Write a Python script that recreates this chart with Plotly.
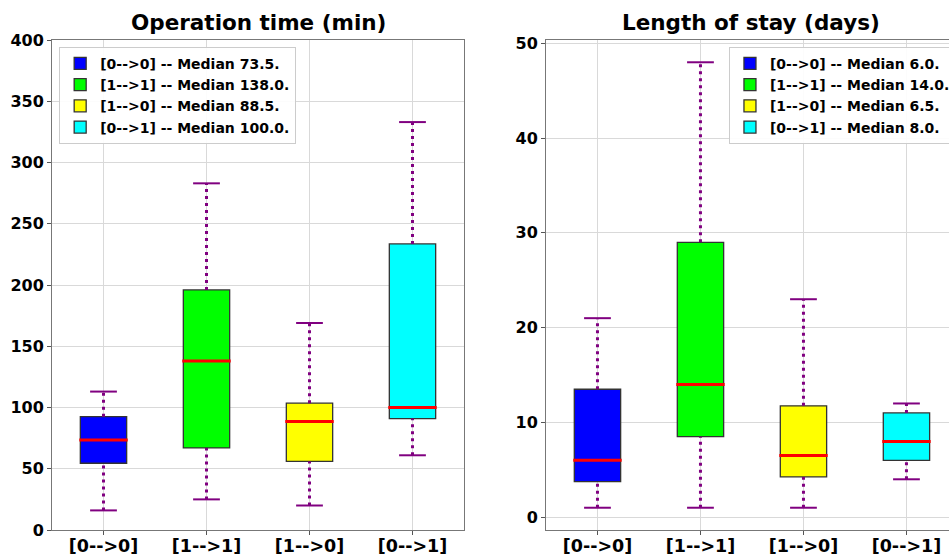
import plotly.graph_objects as go

categories = ["[0-->0]", "[1-->1]", "[1-->0]", "[0-->1]"]
colors = ["#0000ff", "#00ff00", "#ffff00", "#00ffff"]

# Operation time (min)
op_low = [16, 25, 20, 61]
op_q1 = [54.5, 67, 56, 91]
op_med = [73.5, 138.0, 88.5, 100.0]
op_q3 = [92.5, 196, 103.5, 233.5]
op_high = [113, 283, 169, 333]

# Length of stay (days)
los_low = [1, 1, 1, 4]
los_q1 = [3.75, 8.5, 4.25, 6]
los_med = [6.0, 14.0, 6.5, 8.0]
los_q3 = [13.5, 29, 11.75, 11]
los_high = [21, 48, 23, 12]

positions = list(range(1, len(categories) + 1))
BOX_W = 0.45
CAP_HALF = 0.13
PURPLE = "#800080"
FONT = "DejaVu Sans"

fig = go.Figure()


def add_panel(xa, ya, legend, low, q1, med, q3, high):
    for i, p in enumerate(positions):
        # box
        fig.add_trace(go.Bar(
            x=[p], y=[q3[i] - q1[i]], base=[q1[i]], width=BOX_W,
            marker=dict(color=colors[i], line=dict(color="#333333", width=1.3)),
            name=f"{categories[i]} -- Median {med[i]:.1f}.",
            xaxis=xa, yaxis=ya, legend=legend, hoverinfo="skip",
        ))
    for i, p in enumerate(positions):
        # whiskers (dotted)
        fig.add_trace(go.Scatter(
            x=[p, p, None, p, p], y=[low[i], q1[i], None, q3[i], high[i]],
            mode="lines", line=dict(color=PURPLE, width=3, dash="3px,4px"),
            showlegend=False, xaxis=xa, yaxis=ya, hoverinfo="skip",
        ))
        # caps
        fig.add_trace(go.Scatter(
            x=[p - CAP_HALF, p + CAP_HALF, None, p - CAP_HALF, p + CAP_HALF],
            y=[low[i], low[i], None, high[i], high[i]],
            mode="lines", line=dict(color=PURPLE, width=2),
            showlegend=False, xaxis=xa, yaxis=ya, hoverinfo="skip",
        ))
        # median
        fig.add_trace(go.Scatter(
            x=[p - BOX_W / 2 - 0.01, p + BOX_W / 2 + 0.01], y=[med[i], med[i]],
            mode="lines", line=dict(color="#ff0000", width=3),
            showlegend=False, xaxis=xa, yaxis=ya, hoverinfo="skip",
        ))


add_panel("x", "y", "legend", op_low, op_q1, op_med, op_q3, op_high)
add_panel("x2", "y2", "legend2", los_low, los_q1, los_med, los_q3, los_high)

axis_common = dict(
    showline=True, linecolor="#777777", linewidth=1, mirror=True,
    showgrid=True, gridcolor="#d9d9d9", gridwidth=1,
    ticks="outside", ticklen=4, tickcolor="#555555", zeroline=False,
)
ytickfont = dict(family=FONT, size=16, color="black", weight="bold")
xtickfont = dict(family=FONT, size=17.5, color="black", weight="bold")

legend_font = dict(family=FONT, size=14, color="black", weight="bold")

fig.update_layout(
    width=949, height=556, autosize=False,
    margin=dict(l=52, r=0, t=40, b=26, autoexpand=False),
    plot_bgcolor="white", paper_bgcolor="white",
    barmode="overlay",
    xaxis=dict(domain=[0, 0.4593], range=[0.5, 4.5], tickvals=positions,
               ticktext=categories, anchor="y", tickfont=xtickfont,
               ticklabelstandoff=-4, **axis_common),
    yaxis=dict(domain=[0, 1], range=[0, 400], dtick=50, anchor="x",
               tickfont=ytickfont, **axis_common),
    xaxis2=dict(domain=[0.5507, 1], range=[0.5, 4.413], tickvals=positions,
                ticktext=categories, anchor="y2", tickfont=xtickfont,
                ticklabelstandoff=-4, **axis_common),
    yaxis2=dict(domain=[0, 1], range=[-1.35, 50.35], dtick=10, anchor="x2",
                tickfont=ytickfont, **axis_common),
    legend=dict(x=0.008, y=0.986, xanchor="left", yanchor="top",
                bgcolor="rgba(255,255,255,0.9)", bordercolor="#cccccc", borderwidth=1,
                font=legend_font, tracegroupgap=0),
    legend2=dict(x=0.7547, y=0.986, xanchor="left", yanchor="top",
                 bgcolor="rgba(255,255,255,0.9)", bordercolor="#cccccc", borderwidth=1,
                 font=legend_font, tracegroupgap=0),
    annotations=[
        dict(text="Operation time (min)", x=0.2297, y=1, xref="paper", yref="paper",
             xanchor="center", yanchor="bottom", yshift=3, showarrow=False,
             font=dict(family=FONT, size=21.5, color="black", weight="bold")),
        dict(text="Length of stay (days)", x=0.779, y=1, xref="paper", yref="paper",
             xanchor="center", yanchor="bottom", yshift=3, showarrow=False,
             font=dict(family=FONT, size=21.5, color="black", weight="bold")),
    ],
)

fig.write_html(
    "out.html",
    config={"displayModeBar": False, "responsive": False},
    post_script="document.body.style.margin='0px';document.body.style.overflow='hidden';",
)
